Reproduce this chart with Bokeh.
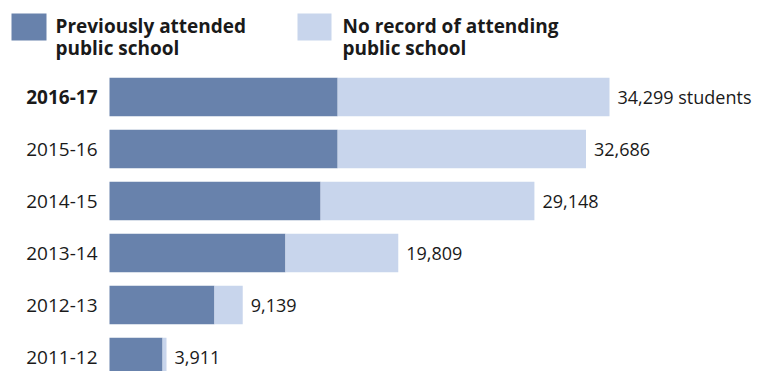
from bokeh.plotting import figure
from bokeh.models import ColumnDataSource, Range1d, Label, BoxAnnotation
from bokeh.core.properties import value
from bokeh.embed import file_html
from bokeh.resources import INLINE

# ---- data (top row first) ----
years = ["2016-17", "2015-16", "2014-15", "2013-14", "2012-13", "2011-12"]
totals = [34299, 32686, 29148, 19809, 9139, 3911]
prev_public = [15650, 15650, 14480, 12070, 7200, 3640]
no_record = [18649, 17036, 14668, 7739, 1939, 271]
series_names = ["Previously attended public school", "No record of attending public school"]

DARK = "#6882AC"
LIGHT = "#C8D5EC"
TEXT = "#1a1a1a"
FONT = "Open Sans"

W, H = 752, 371

src = ColumnDataSource(dict(
    y=list(range(len(years))),
    year=years,
    prev=prev_public,
    norec=no_record,
    total=totals,
    vlabel=[f"{t:,}" + (" students" if i == 0 else "") for i, t in enumerate(totals)],
    ystyle=["bold" if i == 0 else "normal" for i in range(len(years))],
))

BAR0 = 109          # pixel where bars start
upp = 34299 / 500.0  # data units per pixel
x0 = -BAR0 * upp
x1 = (W - BAR0) * upp
pitch = 52.0
ytop = -96.5 / pitch
ybot = ytop + H / pitch

p = figure(width=W, height=H, output_backend="svg", toolbar_location=None,
           x_range=Range1d(x0, x1), y_range=Range1d(ybot, ytop),
           x_axis_location=None, y_axis_location=None, min_border=0)
p.grid.visible = False
p.outline_line_color = None
p.background_fill_color = "white"
p.border_fill_color = "white"

p.hbar_stack(["prev", "norec"], y="y", height=0.74, color=[DARK, LIGHT],
             line_color=None, source=src)

p.text(x=0, y="y", text="year", source=src, x_offset=-12, text_align="right",
       text_baseline="middle", text_font=value(FONT), text_font_size="19px",
       text_font_style="ystyle", text_color=TEXT)

p.text(x="total", y="y", text="vlabel", source=src, x_offset=8, text_align="left",
       text_baseline="middle", text_font=value(FONT), text_font_size="18px",
       text_color=TEXT)

# legend
for (left, right, col, tx, name) in [(11, 46, DARK, 55, series_names[0]),
                                     (297, 331, LIGHT, 342, series_names[1])]:
    p.add_layout(BoxAnnotation(left=left, right=right, bottom=H - 40, top=H - 13,
                               left_units="screen", right_units="screen",
                               top_units="screen", bottom_units="screen",
                               fill_color=col, fill_alpha=1.0, line_color=None,
                               level="overlay"))
    first, second = name.rsplit(" public school", 1)[0], "public school"
    for txt, base in [(first, H - 25), (second, H - 47)]:
        p.add_layout(Label(x=tx, y=base, x_units="screen", y_units="screen",
                           text=txt, text_font=FONT, text_font_size="19px",
                           text_font_style="bold", text_color=TEXT,
                           text_baseline="alphabetic", text_align="left"))

open("out.html", "w").write(file_html(p, INLINE))
